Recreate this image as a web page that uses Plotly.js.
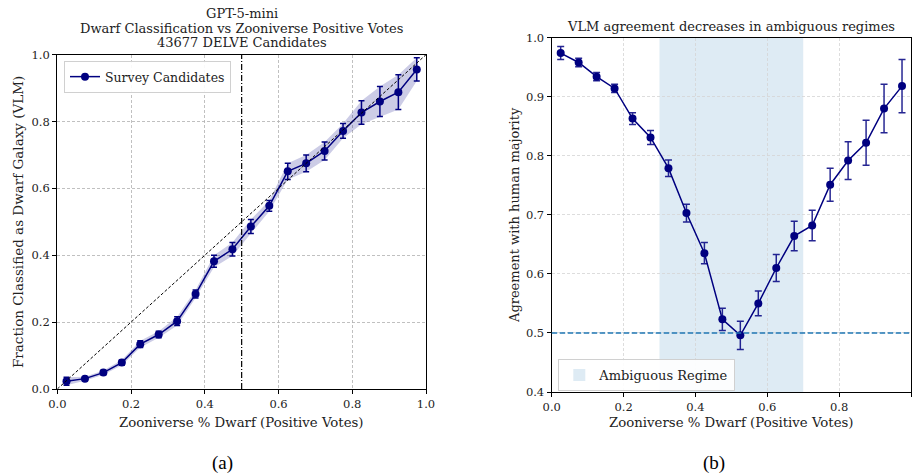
<!DOCTYPE html>
<html>
<head>
<meta charset="utf-8">
<script src="https://cdn.plot.ly/plotly-3.0.1.min.js"></script>
<style>html,body{margin:0;padding:0;background:#fff;}#chart{width:917px;height:476px;}</style>
</head>
<body>
<div id="chart"></div>
<script>
// ---- data ----
const binCenters = [0.025,0.075,0.125,0.175,0.225,0.275,0.325,0.375,0.425,0.475,0.525,0.575,0.625,0.675,0.725,0.775,0.825,0.875,0.925,0.975];
const fracDwarf = [0.023,0.031,0.049,0.079,0.134,0.163,0.203,0.284,0.382,0.418,0.486,0.548,0.651,0.675,0.712,0.772,0.827,0.860,0.888,0.956];
const fracErr   = [0.012,0.006,0.006,0.008,0.010,0.010,0.013,0.012,0.018,0.020,0.021,0.016,0.024,0.025,0.027,0.022,0.035,0.045,0.052,0.035];
const agreement = [0.974,0.958,0.934,0.914,0.863,0.831,0.779,0.703,0.635,0.523,0.496,0.550,0.610,0.664,0.682,0.751,0.792,0.822,0.880,0.918];
const agreeErr  = [0.011,0.007,0.007,0.007,0.010,0.012,0.014,0.015,0.018,0.019,0.024,0.021,0.023,0.025,0.026,0.028,0.032,0.038,0.041,0.045];
const xTicks = [0.0,0.2,0.4,0.6,0.8,1.0];
const xTickLabels = ['0.0','0.2','0.4','0.6','0.8','1.0'];
const yTicksA = [0.0,0.2,0.4,0.6,0.8,1.0];
const yTickLabelsA = ['0.0','0.2','0.4','0.6','0.8','1.0'];
const yTicksB = [0.4,0.5,0.6,0.7,0.8,0.9,1.0];
const yTickLabelsB = ['0.4','0.5','0.6','0.7','0.8','0.9','1.0'];
const ambiguousLow = 0.3, ambiguousHigh = 0.7;
const chanceLevel = 0.5;
const splitLine = 0.5;

const NAVY = '#000080';
const SERIF = '"DejaVu Serif", serif';
const CAP = '"Liberation Serif", "Times New Roman", serif';

const upper = fracDwarf.map((v,i)=>v+fracErr[i]);
const lower = fracDwarf.map((v,i)=>v-fracErr[i]);

const traces = [
  {x: binCenters, y: lower, xaxis:'x', yaxis:'y', mode:'lines', line:{width:0, color:NAVY}, showlegend:false, hoverinfo:'skip'},
  {x: binCenters, y: upper, xaxis:'x', yaxis:'y', mode:'lines', line:{width:0, color:NAVY}, fill:'tonexty', fillcolor:'rgba(0,0,128,0.2)', showlegend:false, hoverinfo:'skip'},
  {x: binCenters, y: fracDwarf, xaxis:'x', yaxis:'y', mode:'lines+markers', name:'Survey Candidates',
   line:{color:NAVY, width:1.5}, marker:{color:NAVY, size:8},
   error_y:{type:'data', array: fracErr, visible:true, color:NAVY, thickness:1.5, width:3}, legend:'legend'},
  {x: binCenters, y: agreement, xaxis:'x2', yaxis:'y2', mode:'lines+markers', name:'Agreement',
   line:{color:NAVY, width:1.5}, marker:{color:NAVY, size:8}, showlegend:false,
   error_y:{type:'data', array: agreeErr, visible:true, color:'rgba(0,0,128,0.85)', thickness:1.5, width:3.5}}
];

const axisCommon = {
  showline:true, mirror:true, linecolor:'#000', linewidth:1.2,
  ticks:'outside', ticklen:4, tickwidth:1, tickcolor:'#000',
  showgrid:true, griddash:'3px,2px', gridwidth:0.8, zeroline:false,
  tickfont:{family:SERIF, size:11.5, color:'#222'}
};

const layout = {
  width:917, height:476,
  margin:{l:0,r:0,t:0,b:0},
  paper_bgcolor:'#fff', plot_bgcolor:'#fff',
  font:{family:SERIF, color:'#222'},
  xaxis: Object.assign({}, axisCommon, {domain:[57.3/917, 426/917], range:[0,1], tickvals:xTicks, ticktext:xTickLabels, anchor:'y', gridcolor:'#b0b0b0'}),
  yaxis: Object.assign({}, axisCommon, {domain:[(476-389)/476, (476-54.7)/476], range:[0,1], tickvals:yTicksA, ticktext:yTickLabelsA, anchor:'x', gridcolor:'#b0b0b0'}),
  xaxis2: Object.assign({}, axisCommon, {domain:[551.7/917, 911/917], range:[0,1], tickvals:xTicks, ticktext:xTickLabels, anchor:'y2', gridcolor:'#d4d4d4'}),
  yaxis2: Object.assign({}, axisCommon, {domain:[(476-392)/476, (476-37.7)/476], range:[0.4,1], tickvals:yTicksB, ticktext:yTickLabelsB, anchor:'x2', gridcolor:'#d4d4d4'}),
  legend:{x:64/917, y:(476-61)/476, xanchor:'left', yanchor:'top', bgcolor:'rgba(255,255,255,0.9)', bordercolor:'#d0d0d0', borderwidth:1,
          font:{family:SERIF, size:12.5, color:'#222'}, itemwidth:30},
  legend2:{x:558.3/917, y:(476-359)/476, xanchor:'left', yanchor:'top', bgcolor:'rgba(255,255,255,0.9)', bordercolor:'#d0d0d0', borderwidth:1,
          font:{family:SERIF, size:13, color:'#222'}, itemwidth:30},
  shapes:[
    {type:'line', xref:'x', yref:'y', x0:0, y0:0, x1:1, y1:1, line:{color:'#000', width:1, dash:'3px,2px'}},
    {type:'line', xref:'x', yref:'y domain', x0:splitLine, x1:splitLine, y0:0, y1:1, line:{color:'#000', width:1.2, dash:'6px,2px,1px,2px'}},
    {type:'rect', xref:'x2', yref:'y2 domain', x0:ambiguousLow, x1:ambiguousHigh, y0:0, y1:1, layer:'below',
     fillcolor:'rgba(31,119,180,0.15)', line:{width:0}, showlegend:true, name:'Ambiguous Regime', legend:'legend2'},
    {type:'line', xref:'x2 domain', yref:'y2', x0:0, x1:1, y0:chanceLevel, y1:chanceLevel, line:{color:'#1f77b4', width:1.5, dash:'5.5px,2.5px'}}
  ],
  annotations:[
    {text:'GPT-5-mini', xref:'paper', yref:'paper', x:241.6/917, y:(476-13.3)/476, showarrow:false, xanchor:'center', yanchor:'middle', font:{family:SERIF, size:13, color:'#222'}},
    {text:'Dwarf Classification vs Zooniverse Positive Votes', xref:'paper', yref:'paper', x:241.6/917, y:(476-28.3)/476, showarrow:false, xanchor:'center', yanchor:'middle', font:{family:SERIF, size:13, color:'#222'}},
    {text:'43677 DELVE Candidates', xref:'paper', yref:'paper', x:241.6/917, y:(476-42.5)/476, showarrow:false, xanchor:'center', yanchor:'middle', font:{family:SERIF, size:13, color:'#222'}},
    {text:'VLM agreement decreases in ambiguous regimes', xref:'paper', yref:'paper', x:731/917, y:(476-26.7)/476, showarrow:false, xanchor:'center', yanchor:'middle', font:{family:SERIF, size:13, color:'#222'}},
    {text:'Zooniverse % Dwarf (Positive Votes)', xref:'paper', yref:'paper', x:241.6/917, y:(476-422)/476, showarrow:false, xanchor:'center', yanchor:'middle', font:{family:SERIF, size:13.3, color:'#222'}},
    {text:'Zooniverse % Dwarf (Positive Votes)', xref:'paper', yref:'paper', x:731/917, y:(476-422)/476, showarrow:false, xanchor:'center', yanchor:'middle', font:{family:SERIF, size:13.3, color:'#222'}},
    {text:'Fraction Classified as Dwarf Galaxy (VLM)', xref:'paper', yref:'paper', x:18/917, y:(476-222)/476, showarrow:false, textangle:-90, xanchor:'center', yanchor:'middle', font:{family:SERIF, size:13.5, color:'#222'}},
    {text:'Agreement with human majority', xref:'paper', yref:'paper', x:515/917, y:(476-215)/476, showarrow:false, textangle:-90, xanchor:'center', yanchor:'middle', font:{family:SERIF, size:13, color:'#222'}},
    {text:'(a)', xref:'paper', yref:'paper', x:222/917, y:(476-463)/476, showarrow:false, xanchor:'center', yanchor:'middle', font:{family:CAP, size:19, color:'#000'}},
    {text:'(b)', xref:'paper', yref:'paper', x:714/917, y:(476-463)/476, showarrow:false, xanchor:'center', yanchor:'middle', font:{family:CAP, size:19, color:'#000'}}
  ]
};

Plotly.newPlot('chart', traces, layout, {staticPlot:true, displayModeBar:false});
</script>
</body>
</html>
